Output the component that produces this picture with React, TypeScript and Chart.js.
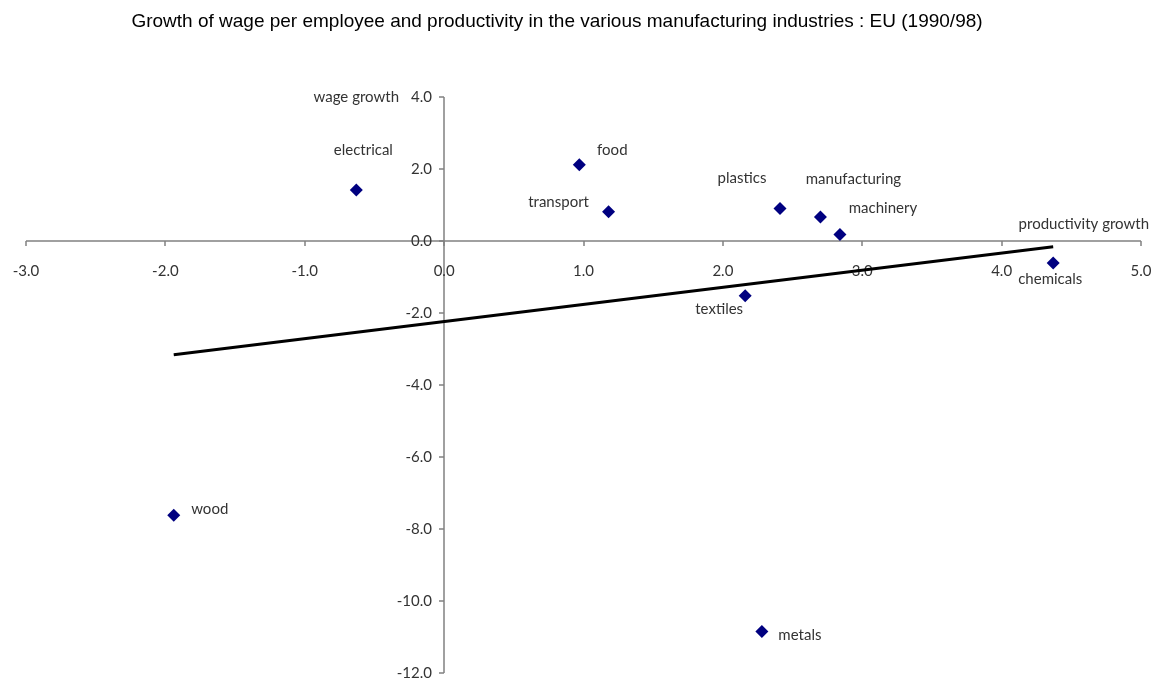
import React, { useEffect, useRef } from 'react';
import { Chart, registerables } from 'chart.js';

Chart.register(...registerables);

const chartTitle =
  'Growth of wage per employee and productivity in the various manufacturing industries : EU (1990/98)';
const xAxisTitle = 'productivity growth';
const yAxisTitle = 'wage growth';

const industries = [
  'electrical',
  'food',
  'transport',
  'plastics',
  'manufacturing',
  'machinery',
  'chemicals',
  'textiles',
  'wood',
  'metals',
];
const productivityGrowth = [-0.63, 0.97, 1.18, 2.41, 2.7, 2.84, 4.37, 2.16, -1.94, 2.28];
const wageGrowth = [1.42, 2.12, 0.81, 0.9, 0.67, 0.18, -0.61, -1.52, -7.62, -10.85];

const trendX = [-1.94, 4.37];
const trendY = [-3.16, -0.16];

const xTicks = [-3, -2, -1, 0, 1, 2, 3, 4, 5];
const yTicks = [4, 2, 0, -2, -4, -6, -8, -10, -12];

// label placement (style only): offset of label centre from point, in px
const labelOffsets: [number, number][] = [
  [7, -40],
  [33, -15],
  [-50, -10],
  [-38, -30],
  [33, -38],
  [43, -26],
  [-3, 16],
  [-26, 13],
  [36, -6],
  [38, 4],
];

const FONT = 'Lato, "Open Sans", "DejaVu Sans", sans-serif';
const TEXT_COLOR = '#333333';
const AXIS_COLOR = '#808080';

const axesPlugin = {
  id: 'customAxes',
  beforeDatasetsDraw(chart: any) {
    const ctx = chart.ctx;
    const xs = chart.scales.x;
    const ys = chart.scales.y;
    const x0 = Math.round(xs.getPixelForValue(0));
    const y0 = Math.round(ys.getPixelForValue(0));
    ctx.save();
    ctx.strokeStyle = AXIS_COLOR;
    ctx.lineWidth = 1.5;
    // x axis
    ctx.beginPath();
    ctx.moveTo(xs.getPixelForValue(xTicks[0]), y0);
    ctx.lineTo(xs.getPixelForValue(xTicks[xTicks.length - 1]), y0);
    ctx.stroke();
    xTicks.forEach((t) => {
      const px = Math.round(xs.getPixelForValue(t));
      ctx.beginPath();
      ctx.moveTo(px, y0);
      ctx.lineTo(px, y0 + 5);
      ctx.stroke();
    });
    // y axis
    ctx.beginPath();
    ctx.moveTo(x0, ys.getPixelForValue(yTicks[0]));
    ctx.lineTo(x0, ys.getPixelForValue(yTicks[yTicks.length - 1]));
    ctx.stroke();
    yTicks.forEach((t) => {
      const py = Math.round(ys.getPixelForValue(t));
      ctx.beginPath();
      ctx.moveTo(x0 - 5, py);
      ctx.lineTo(x0, py);
      ctx.stroke();
    });

    ctx.fillStyle = TEXT_COLOR;
    ctx.font = `15px ${FONT}`;
    ctx.textBaseline = 'middle';
    ctx.textAlign = 'center';
    xTicks.forEach((t) => {
      ctx.fillText(t.toFixed(1), xs.getPixelForValue(t), y0 + 30);
    });
    ctx.textAlign = 'right';
    yTicks.forEach((t) => {
      ctx.fillText(t.toFixed(1), x0 - 12, ys.getPixelForValue(t));
    });

    // axis titles
    ctx.font = `15px ${FONT}`;
    ctx.textAlign = 'right';
    ctx.fillText(yAxisTitle, x0 - 45, ys.getPixelForValue(yTicks[0]));
    ctx.fillText(xAxisTitle, xs.getPixelForValue(xTicks[xTicks.length - 1]) + 8, y0 - 17);

    // chart title
    ctx.fillStyle = '#000000';
    ctx.font = `19px "Liberation Sans Narrow", "Liberation Sans", sans-serif`;
    ctx.textAlign = 'center';
    ctx.fillText(chartTitle, 557, 22);
    ctx.restore();
  },
  afterDatasetsDraw(chart: any) {
    const ctx = chart.ctx;
    const meta = chart.getDatasetMeta(0);
    ctx.save();
    ctx.fillStyle = TEXT_COLOR;
    ctx.font = `15px ${FONT}`;
    ctx.textAlign = 'center';
    ctx.textBaseline = 'middle';
    meta.data.forEach((pt: any, i: number) => {
      const [dx, dy] = labelOffsets[i];
      ctx.fillText(industries[i], pt.x + dx, pt.y + dy);
    });
    ctx.restore();
  },
};

export default function App() {
  const ref = useRef<HTMLCanvasElement | null>(null);
  useEffect(() => {
    if (!ref.current) return;
    const chart = new Chart(ref.current, {
      type: 'scatter',
      data: {
        datasets: [
          {
            label: 'industries',
            data: industries.map((_, i) => ({ x: productivityGrowth[i], y: wageGrowth[i] })),
            pointStyle: 'rectRot',
            pointRadius: 6.5,
            pointBackgroundColor: '#000080',
            pointBorderColor: '#000080',
            pointBorderWidth: 0,
            showLine: false,
          },
          {
            label: 'trend',
            data: trendX.map((x, i) => ({ x, y: trendY[i] })),
            showLine: true,
            borderColor: '#000000',
            borderWidth: 3,
            pointRadius: 0,
          },
        ],
      },
      options: {
        responsive: false,
        animation: false,
        layout: { padding: { left: 26, right: 14, top: 97, bottom: 8 } },
        plugins: {
          legend: { display: false },
          tooltip: { enabled: false },
          title: { display: false },
        },
        scales: {
          x: { type: 'linear', min: -3, max: 5, display: false },
          y: { type: 'linear', min: -12, max: 4, display: false },
        },
      },
      plugins: [axesPlugin],
    });
    return () => chart.destroy();
  }, []);
  return (
    <div style={{ position: 'absolute', left: 0, top: 0, width: 1155, height: 681, background: '#fff' }}>
      <canvas ref={ref} width={1155} height={681} style={{ display: 'block' }} />
    </div>
  );
}
